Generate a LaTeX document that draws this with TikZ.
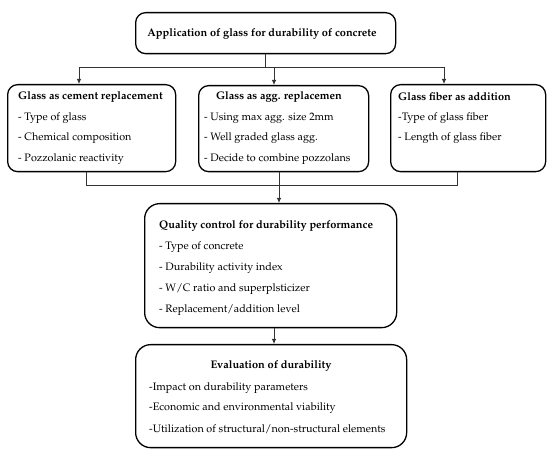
\documentclass[tikz,border=0pt]{standalone}
\usepackage[T1]{fontenc}
\usepackage{mathpazo}
\usetikzlibrary{arrows.meta}
\begin{document}
\begin{tikzpicture}[x=1pt,y=-1pt,
  box/.style={draw=black, line width=1.3pt, rounded corners=10pt, anchor=north west, inner sep=0pt},
  bigbox/.style={box, rounded corners=15pt},
  txt/.style={anchor=west, inner sep=0pt, font=\fontsize{10.8}{12}\selectfont},
  ttl/.style={txt, font=\fontsize{11}{12}\selectfont\bfseries},
  conn/.style={draw=black!80, line width=0.8pt},
  arr/.style={conn, -{Latex[length=5pt,width=4.5pt]}}]
\useasboundingbox (0,0) rectangle (550,454);
% boxes
\node[box, minimum width=260pt, minimum height=41pt] (top) at (135,12) {};
\node[box, minimum width=168pt, minimum height=87pt] (b1) at (7,84) {};
\node[box, minimum width=170pt, minimum height=86pt] (b2) at (198,85) {};
\node[box, minimum width=155pt, minimum height=87pt] (b3) at (390,84) {};
\node[bigbox, minimum width=252pt, minimum height=124pt] (b4) at (144,203) {};
\node[bigbox, minimum width=271pt, minimum height=103pt] (b5) at (135,344) {};
% texts
\node[ttl, anchor=center] (t0) at (262,34) {Application of glass for durability of concrete};
\node[ttl] (t1) at (18,97) {Glass as cement replacement};
\node[txt] (t1a) at (18,118) {- Type of glass};
\node[txt] (t1b) at (18,138) {- Chemical composition};
\node[txt] (t1c) at (18,159) {- Pozzolanic reactivity};
\node[ttl, anchor=center] (t2) at (279,97) {Glass as agg. replacemen};
\node[txt] (t2a) at (204,118) {- Using max agg. size 2mm};
\node[txt] (t2b) at (204,138) {- Well graded glass agg.};
\node[txt] (t2c) at (204,159) {- Decide to combine pozzolans};
\node[ttl] (t3) at (398,97) {Glass fiber as addition};
\node[txt] (t3a) at (398,118) {-Type of glass fiber};
\node[txt] (t3b) at (398,138) {- Length of glass fiber};
\node[ttl] (t4) at (159,226) {Quality control for durability performance};
\node[txt] (t4a) at (159,247) {- Type of concrete};
\node[txt] (t4b) at (159,268) {- Durability activity index};
\node[txt] (t4c) at (159,289) {- W/C ratio and superplsticizer};
\node[txt] (t4d) at (159,310) {- Replacement/addition level};
\node[ttl, anchor=center] (t5) at (271,366) {Evaluation of durability};
\node[txt] (t5a) at (149,388) {-Impact on durability parameters};
\node[txt] (t5b) at (149,408) {-Economic and environmental viability};
\node[txt] (t5c) at (149,429) {-Utilization of structural/non-structural elements};
% upper connectors
\coordinate (jL) at (79,67);
\coordinate (jR) at (444,67);
\coordinate (jM) at (274,67);
\draw[conn] (top.south) -- (top.south |- jL);
\draw[conn] (jL) -- (jR);
\draw[arr] (jL) -- (b1.north -| jL);
\draw[arr] (jM) -- (b2.north -| jM);
\draw[arr] (jR) -- (b3.north -| jR);
% lower connectors
\coordinate (kL) at (86,185);
\coordinate (kR) at (457,185);
\coordinate (kM) at (279,185);
\draw[conn] (b1.south -| kL) -- (kL) -- (kR) -- (b3.south -| kR);
\draw[arr] (b2.south -| kM) -- (b4.north -| kM);
\coordinate (m) at (274,330);
\draw[arr] (b4.south -| m) -- (b5.north -| m);
\end{tikzpicture}
\end{document}
